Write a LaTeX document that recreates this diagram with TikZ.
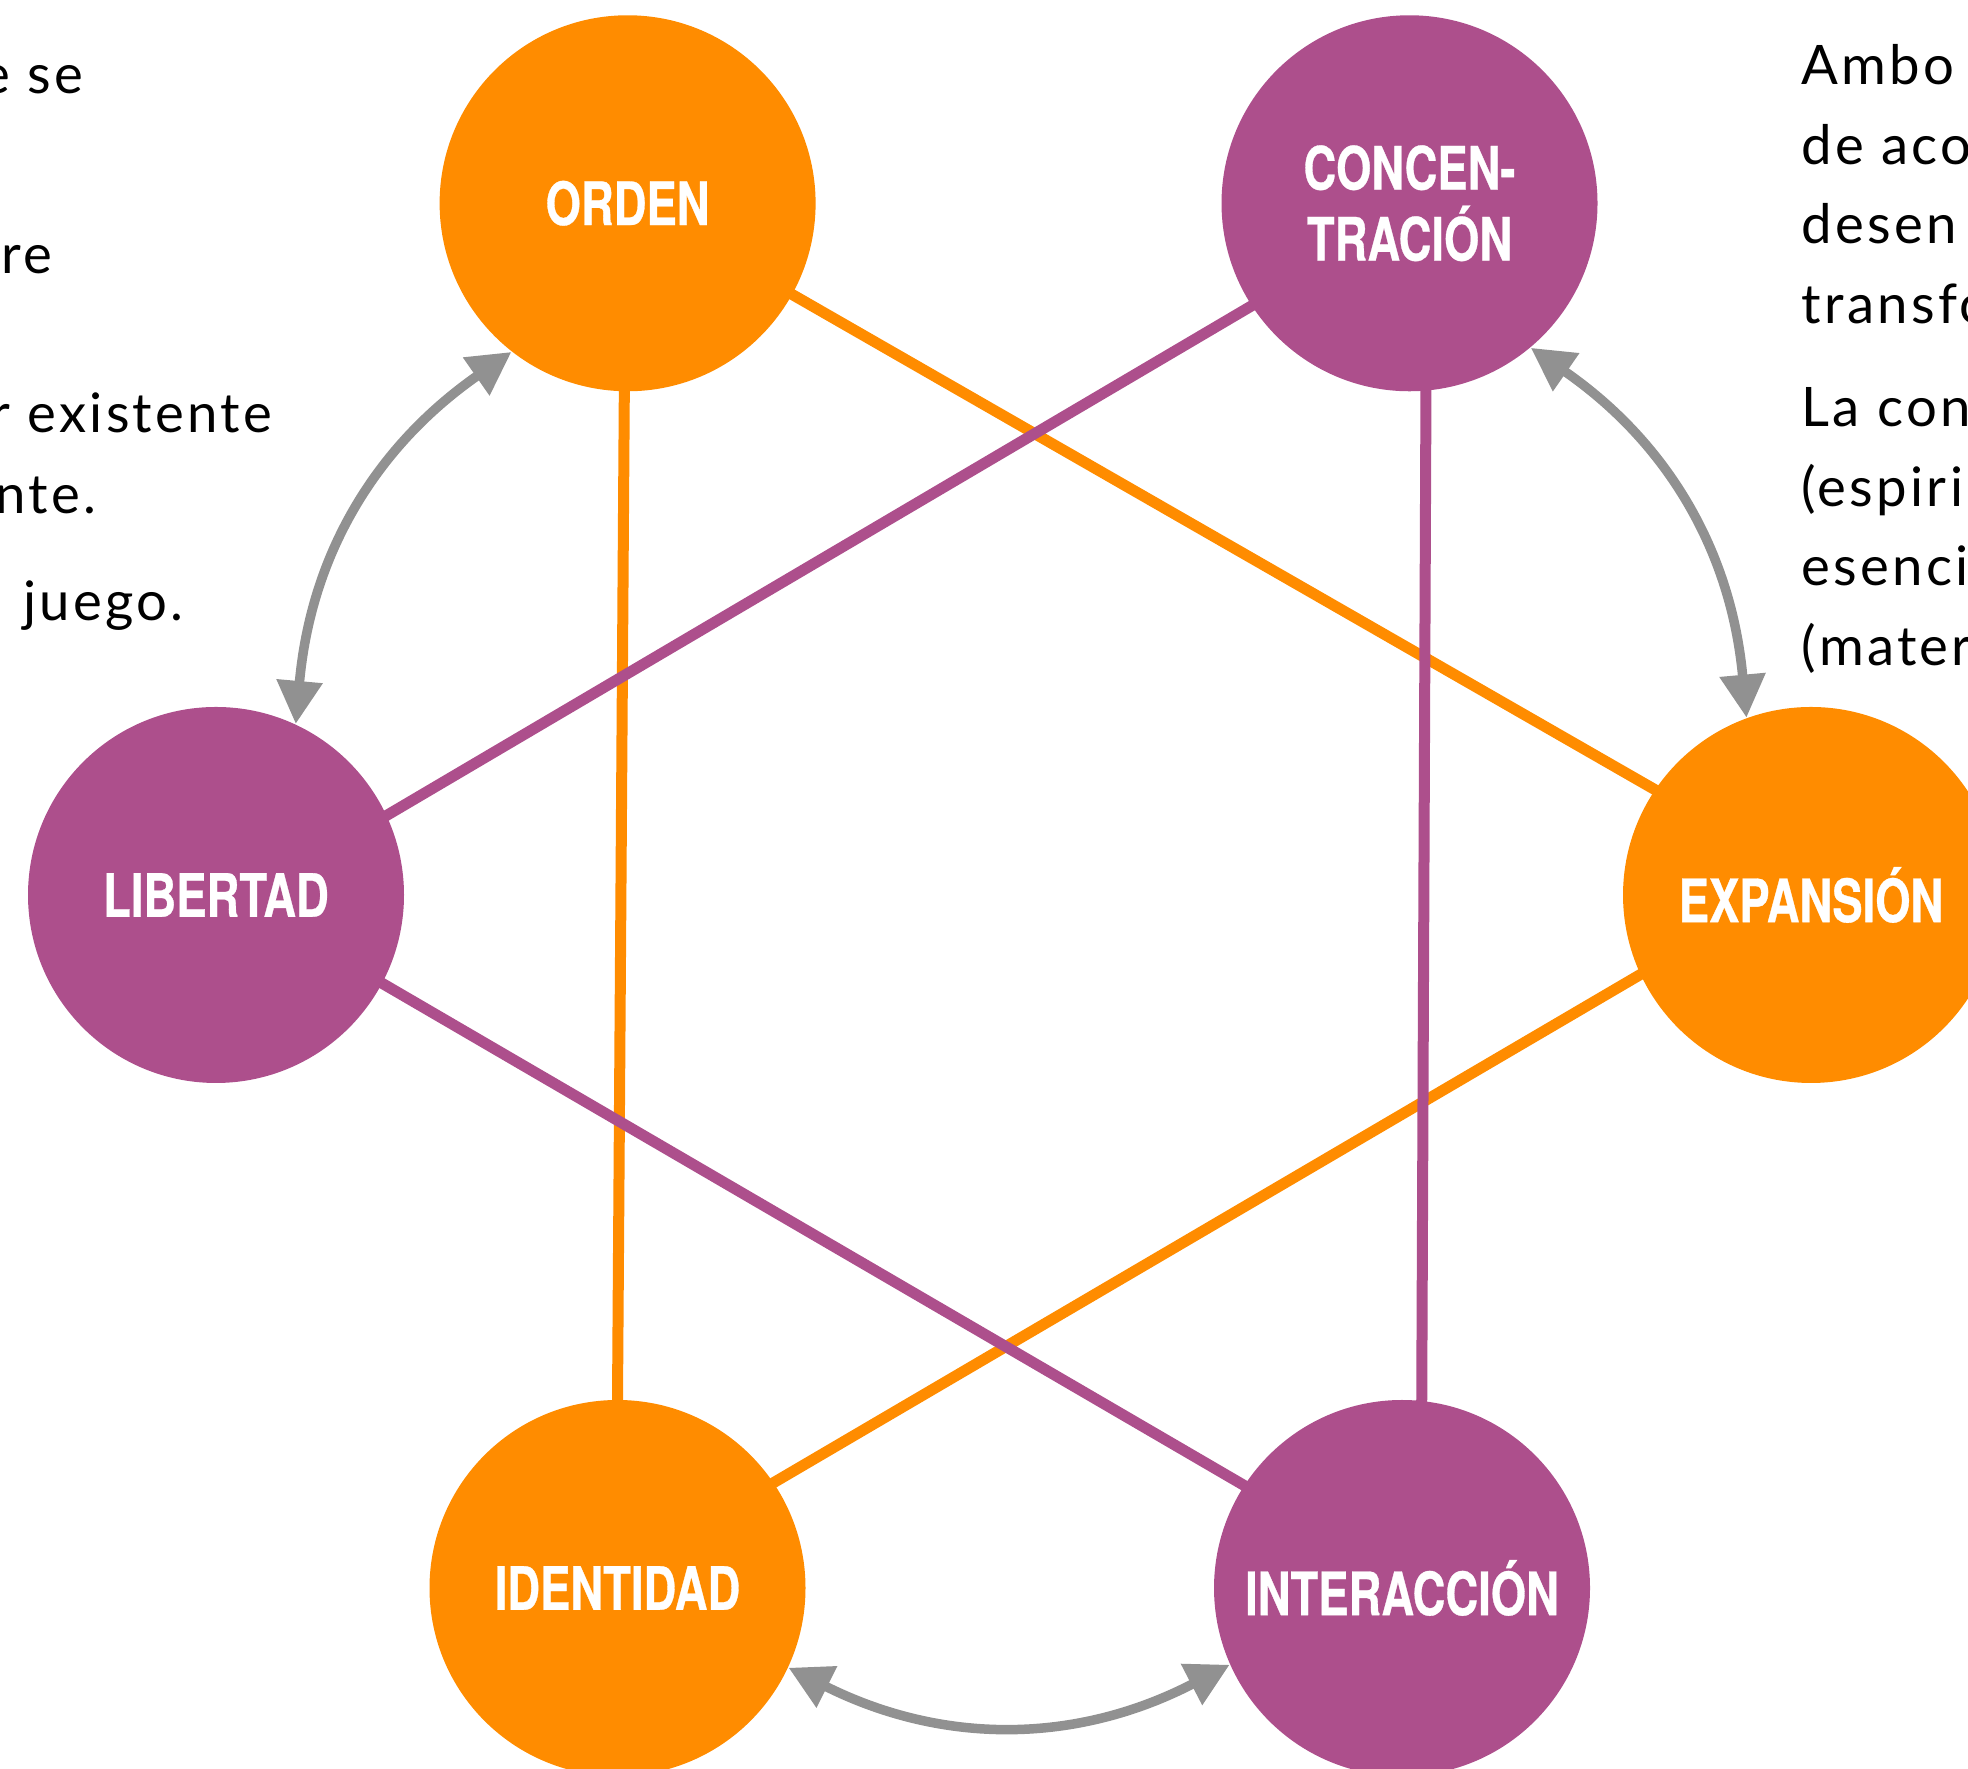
\documentclass[tikz,border=0pt]{standalone}
\usepackage{fontspec}
\setmainfont[LetterSpace=6]{Lato}
\newfontfamily\labelfont[FakeStretch=0.76,FakeBold=0.5]{TeX Gyre Heros}
\usetikzlibrary{arrows.meta,backgrounds}
\definecolor{naranja}{RGB}{255,140,0}
\definecolor{morado}{RGB}{173,79,140}
\definecolor{gris}{RGB}{145,145,145}

\begin{document}
\begin{tikzpicture}[x=0.1mm,y=0.1mm,
	circulo/.style={circle,minimum size=37.6mm,inner sep=0pt,text=white,align=center,
		font=\labelfont\bfseries\fontsize{17}{20.2}\selectfont},
	enlace/.style={line width=1.1mm,shorten <=-3mm,shorten >=-3mm},
	flecha/.style={gris,line width=0.95mm,{Triangle[length=4.3mm,width=4.4mm]}-{Triangle[length=4.3mm,width=4.4mm]}},
	texto/.style={inner sep=0pt,font=\fontsize{15.5}{19}\selectfont}]
				\useasboundingbox (0,0) rectangle (1968,1769);
				
				\node[circulo,fill=naranja] (orden) at (627.6,1565.7) {ORDEN};
				\node[circulo,fill=morado] (concentracion) at (1409.5,1565.7) {CONCEN-\\TRACIÓN};
				\node[circulo,fill=morado] (libertad) at (216,874) {LIBERTAD};
				\node[circulo,fill=naranja] (expansion) at (1811,874) {EXPANSIÓN};
				\node[circulo,fill=naranja] (identidad) at (617.5,181) {IDENTIDAD};
				\node[circulo,fill=morado] (interaccion) at (1402,181) {INTERACCIÓN};
				
				\begin{pgfonlayer}{background}
				\draw[enlace,naranja] (orden.-29) -- (expansion.146.5);
				\draw[enlace,naranja] (orden.-91.2) -- (identidad.90);
				\draw[enlace,naranja] (expansion.205.6) -- (identidad.34.7);
				\draw[enlace,morado] (concentracion.213.9) -- (libertad.25.9);
				\draw[enlace,morado] (concentracion.-85.6) -- (interaccion.84.8);
				\draw[enlace,morado] (libertad.-28.5) -- (interaccion.147.1);
				\end{pgfonlayer}
				
				\draw[flecha] (libertad.65) to[bend left=25] (orden.232);
				\draw[flecha] (concentracion.-50) to[bend left=25] (expansion.110);
				\draw[flecha] (identidad.-25) to[bend right=27] (interaccion.204);
				
				\node[texto,anchor=base east] (izq1) at (84,1675) {e se};
				\node[texto,anchor=base east] (izq2) at (53,1495) {re};
				\node[texto,anchor=base east] (izq3) at (273,1336) {r existente};
				\node[texto,anchor=base east] (izq4) at (97,1255) {nte.};
				\node[texto,anchor=base east] (izq5) at (184,1148) {juego.};
				
				\node[texto,anchor=base west] (der1) at (1801,1684) {Ambo};
				\node[texto,anchor=base west] (der2) at (1801,1604.5) {de aco};
				\node[texto,anchor=base west] (der3) at (1801,1525) {desen};
				\node[texto,anchor=base west] (der4) at (1801,1445.5) {transfo};
				\node[texto,anchor=base west] (der5) at (1801,1342) {La con};
				\node[texto,anchor=base west] (der6) at (1801,1262.5) {(espiri};
				\node[texto,anchor=base west] (der7) at (1801,1183) {esenci};
				\node[texto,anchor=base west] (der8) at (1801,1103.5) {(mater};
			\end{tikzpicture}
\end{document}
